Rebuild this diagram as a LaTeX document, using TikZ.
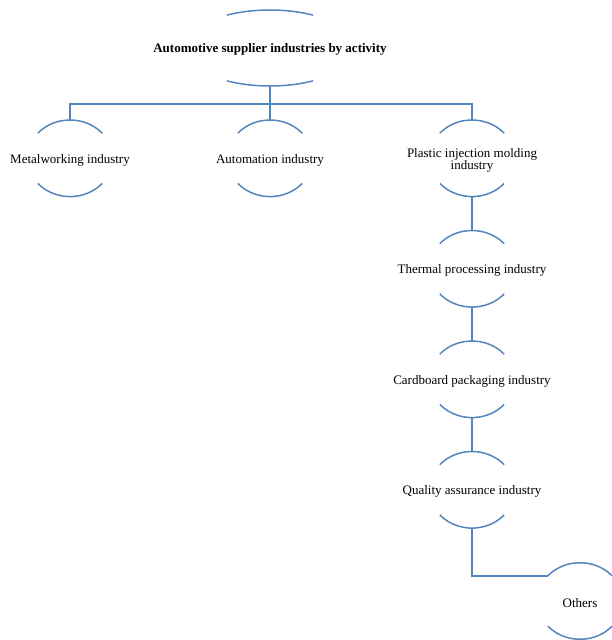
\documentclass[tikz,border=0pt]{standalone}
\usepackage{fontspec}
\setmainfont{Liberation Serif}
\usetikzlibrary{shapes.geometric}
\definecolor{linkblue}{RGB}{84,133,188}
\tikzset{
  orgnode/.style={ellipse, minimum width=85.2pt, minimum height=76.6pt, inner sep=0pt},
  orgtext/.style={align=center, inner sep=0pt, yshift=-2pt, font=\fontsize{13}{12.5}\selectfont},
  topnode/.style={ellipse, minimum width=172pt, minimum height=76pt, inner sep=0pt},
  toptext/.style={inner sep=0pt, yshift=-1.5pt, font=\fontsize{13}{13}\selectfont\bfseries},
  arcline/.style={draw=linkblue, line width=1.5pt},
  link/.style={draw=linkblue, line width=1.5pt}
}
\newcommand{\halfarcs}[3]{% node, x radius, y radius
  \draw[arcline] ([shift={(41:#2 and #3)}]#1.center) arc[start angle=41,end angle=139,x radius=#2,y radius=#3];
  \draw[arcline] ([shift={(221:#2 and #3)}]#1.center) arc[start angle=221,end angle=319,x radius=#2,y radius=#3];
}
\begin{document}
\begin{tikzpicture}[x=1pt,y=1pt]
\useasboundingbox (0,0) rectangle (611,640);
% nodes (y = 640 - pixel row)
\node[topnode, label={[toptext]center:Automotive supplier industries by activity}] (top) at (270,592) {};
\node[orgnode, label={[orgtext]center:Metalworking industry}] (metal) at (70,481.7) {};
\node[orgnode, label={[orgtext]center:Automation industry}] (auto) at (270,481.7) {};
\node[orgnode, label={[orgtext]center:Plastic injection molding\\industry}] (plastic) at (472,481.7) {};
\node[orgnode, label={[orgtext]center:Thermal processing industry}] (thermal) at (472,371.2) {};
\node[orgnode, label={[orgtext]center:Cardboard packaging industry}] (card) at (472,260.7) {};
\node[orgnode, label={[orgtext]center:Quality assurance industry}] (qual) at (472,150.2) {};
\node[orgnode, label={[orgtext]center:Others}] (oth) at (580,39) {};
% arcs of top node
\draw[arcline] ([shift={(60:86pt and 38pt)}]top.center) arc[start angle=60,end angle=120,x radius=86pt,y radius=38pt];
\draw[arcline] ([shift={(240:86pt and 38pt)}]top.center) arc[start angle=240,end angle=300,x radius=86pt,y radius=38pt];
% arcs of other nodes
\halfarcs{metal}{42.6pt}{38.3pt}
\halfarcs{auto}{42.6pt}{38.3pt}
\halfarcs{plastic}{42.6pt}{38.3pt}
\halfarcs{thermal}{42.6pt}{38.3pt}
\halfarcs{card}{42.6pt}{38.3pt}
\halfarcs{qual}{42.6pt}{38.3pt}
\halfarcs{oth}{42.6pt}{38.3pt}
% connectors
\coordinate (bus) at (270,536);
\coordinate (othin) at ([shift={(139:42.6pt and 38.3pt)}]oth.center);
\draw[link] (top.south) -- (bus);
\draw[link] (metal.north) |- (bus);
\draw[link] (plastic.north) |- (bus);
\draw[link] (auto.north) -- (bus);
\draw[link] (plastic.south) -- (thermal.north);
\draw[link] (thermal.south) -- (card.north);
\draw[link] (card.south) -- (qual.north);
\draw[link] (qual.south) |- (othin);
\end{tikzpicture}
\end{document}
